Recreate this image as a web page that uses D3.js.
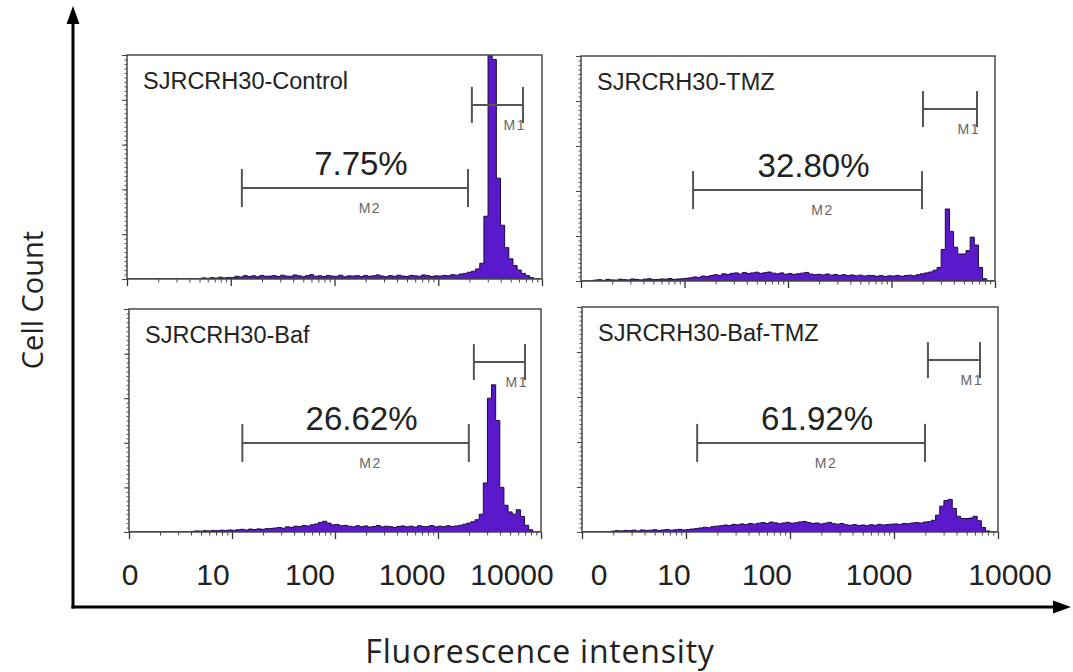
<!DOCTYPE html>
<html>
<head>
<meta charset="utf-8">
<script src="https://cdnjs.cloudflare.com/ajax/libs/d3/7.8.5/d3.min.js"></script>
<style>
	body { margin: 0; background: #fff; }
	svg { display: block; }
</style>
</head>
<body>
<div id="chart"></div>
<script>
// panel names, M2 percentages and gate settings (fluorescence units / % of max count)
const panelNames = ['SJRCRH30-Control', 'SJRCRH30-TMZ', 'SJRCRH30-Baf', 'SJRCRH30-Baf-TMZ']
const percentM2 = ['7.75%', '32.80%', '26.62%', '61.92%']
const gateM1 = [[2110, 6560], [2015, 6700], [2230, 6990], [2120, 6710]]
const gateM2 = [[12.8, 1936], [12.1, 1972], [12.6, 1992], [12.8, 1986]]
const gateM1Level = [77.7, 76.4, 76.2, 76.4]
const gateM2Level = [40.6, 40.4, 39.9, 39.6]
const tickLabels = ['0', '10', '100', '1000', '10000']

// histogram counts, 100 channels over 4 decades (0.04 decade each), % of max count
const histControl = [
	0, 0, 0, 0, 0, 0, 0, 0, 0, 0, 0, 0, 0, 0, 0, 0, 0, 0,
	0.5, 0.3, 0.6, 0.4, 0.8, 0.5, 0.7, 0.6,
	1.2, 0.9, 1.5, 1.1, 1.4, 1.0, 1.6, 1.2, 1.3, 1.5,
	1.1, 1.7, 1.3, 1.2, 1.8, 1.4, 1.0, 1.5, 1.9, 1.2,
	1.4, 1.1, 1.6, 1.3, 1.2, 1.7, 1.0, 1.4, 1.3, 1.5,
	1.1, 1.6, 1.2, 1.4, 1.8, 1.3, 1.0, 1.5, 1.2, 1.7,
	1.3, 1.1, 1.6, 1.4, 1.2, 1.8, 1.5, 1.1, 1.4, 1.3,
	1.6, 1.4, 1.9, 1.7, 2.2,
	2.5, 3.0, 3.5,
	4.5, 7, 28, 108, 98, 45, 24, 14, 9, 6, 4, 2.5, 1.5, 0.6, 0, 0
]
const histTMZ = [
	0, 0, 0,
	0.4, 0.6, 0.3, 0.7, 0.5, 0.4, 0.8, 0.6, 0.5, 0.9, 0.7, 0.5, 0.8, 1.0, 0.6, 0.7, 0.9, 0.8, 1.1, 0.7, 0.9, 1.0, 1.2,
	1.4, 1.8, 1.6, 2.2, 2.0,
	2.4, 2.8, 2.5, 3.2, 2.9, 3.4, 3.6, 3.1, 3.8, 3.3,
	3.6, 3.9, 3.4, 3.7, 4.0, 3.5, 3.2, 3.6, 3.0, 3.3,
	2.9, 3.2, 3.5, 3.8, 3.1, 2.8, 3.0, 2.7, 3.1, 2.6,
	2.9, 2.5, 2.8, 2.4, 2.7, 2.3, 2.6, 2.2, 2.5, 2.4,
	2.1, 2.4, 2.0, 2.3, 2.2, 2.5, 2.1, 2.4, 2.6, 2.3, 2.8, 3.2, 3.6,
	4.0, 4.8, 6.0,
	14, 32, 22, 15, 12, 12, 13.5, 19.5, 16, 6, 1, 0, 0
]
const histBaf = [
	0, 0, 0, 0, 0, 0, 0, 0, 0, 0, 0, 0, 0, 0, 0,
	0.3, 0.5, 0.4, 0.6, 0.5, 0.7, 0.6, 0.8, 0.7, 0.9, 0.8,
	1.0, 1.2, 0.9, 1.3, 1.1, 1.4, 1.2, 1.5, 1.6,
	1.8, 2.0, 1.7, 2.3, 2.1, 2.6, 2.4, 2.9, 2.7, 3.2, 3.6,
	4.3, 4.8, 4.0,
	3.2, 3.4, 2.8, 3.0,
	2.6, 2.3, 2.8, 2.4, 2.7, 2.2, 2.5, 2.9, 2.3, 2.6, 2.4, 2.1, 2.5, 2.7,
	2.3, 2.6, 2.2, 2.8, 2.4, 2.5, 2.9, 2.3, 2.6, 2.4, 2.8, 2.5, 2.7,
	3.0, 3.5, 4.0, 4.6, 5.5,
	8, 22, 60, 66, 50, 20, 12, 9, 8, 10, 7, 3, 1, 0, 0
]
const histBafTMZ = [
	0, 0, 0, 0, 0, 0, 0,
	0.4, 0.6, 0.5, 0.7, 0.6, 0.8, 0.5, 0.9, 0.7, 0.8, 1.0, 0.7, 0.9, 1.1, 0.8, 1.0, 1.2, 0.9, 1.1, 1.3,
	1.5, 1.8, 2.1, 1.9, 2.4, 2.6,
	2.8, 3.1, 2.9, 3.4, 3.2, 3.6, 3.3, 3.8, 3.5, 3.9,
	4.2, 3.8, 4.4, 4.1, 3.7, 4.0, 4.3, 3.9, 4.1, 4.5, 4.7, 4.2, 3.8, 4.0, 3.6, 3.9, 4.3, 3.7, 3.5, 3.8,
	3.2, 3.0, 3.3, 2.9, 3.1, 2.8, 3.2, 3.0, 3.4, 3.1, 3.3, 3.5,
	3.6, 3.4, 3.8, 3.7, 4.0, 4.2, 4.0, 4.4, 4.6, 5.2,
	7.5, 11.5, 14, 14.5, 10.5, 7, 6, 6, 6.2, 7, 5, 2, 0.5, 0, 0
]
const histograms = [histControl, histTMZ, histBaf, histBafTMZ]

const W = 1073
const H = 672
const fill = '#5b19cc'
const outline = '#1c0b3a'
const textCol = '#222'

// panel frames [x0, y0, x1, y1]
const boxes = [[127, 55, 542, 279], [581, 56, 995, 281], [129, 309, 541, 532], [582, 307, 998, 532]]
// small nudges of the pasted decade labels under the two bottom panels
const labelNudge = [[1, -19, -25, -26, -29], [17, -12, -23, -15, 12]]

let svg = d3
	.select('#chart')
	.append('svg')
	.attr('width', W)
	.attr('height', H)

svg.append('rect').attr('width', W).attr('height', H).attr('fill', '#fff')

let decadeTicks = [1, 10, 100, 1000, 10000]
let minorTicks = []
for (let d = 0; d < 4; d++) {
	for (let k = 2; k < 10; k++) minorTicks.push(k * Math.pow(10, d))
}

let xScales = []

boxes.forEach((b, p) => {
	let x = d3.scaleLog().domain([1, 10000]).range([b[0], b[2]])
	let y = d3.scaleLinear().domain([0, 100]).range([b[3], b[1]])
	xScales.push(x)
	let g = svg.append('g')

	g.append('clipPath')
		.attr('id', `clip${p}`)
		.append('rect')
		.attr('x', b[0])
		.attr('y', b[1])
		.attr('width', b[2] - b[0])
		.attr('height', b[3] - b[1])

	// histogram as step area
	let bins = histograms[p].map((v, i) => ({ lo: Math.pow(10, i * 0.04), v: v }))
	bins.push({ lo: 10000, v: 0 })
	let area = d3
		.area()
		.curve(d3.curveStepAfter)
		.x(d => x(d.lo))
		.y0(y(0))
		.y1(d => y(d.v))
	g.append('path')
		.datum(bins)
		.attr('clip-path', `url(#clip${p})`)
		.attr('d', area)
		.attr('fill', fill)
		.attr('stroke', outline)
		.attr('stroke-width', 1)
		.attr('stroke-linejoin', 'round')

	// y ticks (minor + major)
	g.append('g')
		.attr('transform', `translate(${b[0]},0)`)
		.call(d3.axisLeft(y).tickValues(d3.range(0, 101, 2)).tickSize(2.5).tickFormat(''))
		.call(a => a.select('.domain').remove())
		.selectAll('line').attr('stroke', '#555')
	g.append('g')
		.attr('transform', `translate(${b[0]},0)`)
		.call(d3.axisLeft(y).tickValues(d3.range(0, 101, 20)).tickSize(5).tickFormat(''))
		.call(a => a.select('.domain').remove())
		.selectAll('line').attr('stroke', '#444')

	// x ticks (log)
	g.append('g')
		.attr('transform', `translate(0,${b[3]})`)
		.call(d3.axisBottom(x).tickValues(minorTicks).tickSize(3.5).tickFormat(''))
		.call(a => a.select('.domain').remove())
		.selectAll('line').attr('stroke', '#444')
	g.append('g')
		.attr('transform', `translate(0,${b[3]})`)
		.call(d3.axisBottom(x).tickValues(decadeTicks).tickSize(7).tickFormat(''))
		.call(a => a.select('.domain').remove())
		.selectAll('line').attr('stroke', '#333').attr('stroke-width', 1.3)

	// frame
	g.append('rect')
		.attr('x', b[0])
		.attr('y', b[1])
		.attr('width', b[2] - b[0])
		.attr('height', b[3] - b[1])
		.attr('fill', 'none')
		.attr('stroke', '#4a4a4a')
		.attr('stroke-width', 1.5)

	// gates
	let gates = g.append('g').attr('stroke', '#555').attr('stroke-width', 2)
	let drawGate = (range, level, cap) => {
		let gy = y(level)
		let x0 = x(range[0])
		let x1 = x(range[1])
		gates.append('line').attr('x1', x0).attr('x2', x1).attr('y1', gy).attr('y2', gy)
		gates.append('line').attr('x1', x0).attr('x2', x0).attr('y1', gy - cap).attr('y2', gy + cap)
		gates.append('line').attr('x1', x1).attr('x2', x1).attr('y1', gy - cap).attr('y2', gy + cap)
		return { x0, x1, gy }
	}
	let m1 = drawGate(gateM1[p], gateM1Level[p], 18)
	let m2 = drawGate(gateM2[p], gateM2Level[p], 19)

	g.append('text')
		.attr('x', m1.x1 + 3)
		.attr('y', m1.gy + 25)
		.attr('text-anchor', 'end')
		.attr('font-family', 'Liberation Sans, Arial, sans-serif')
		.attr('font-size', 14)
		.attr('letter-spacing', 1.5)
		.attr('fill', '#666')
		.text('M1')
	g.append('text')
		.attr('x', (m2.x0 + m2.x1) / 2 + 15)
		.attr('y', m2.gy + 25)
		.attr('text-anchor', 'middle')
		.attr('font-family', 'Liberation Sans, Arial, sans-serif')
		.attr('font-size', 14)
		.attr('letter-spacing', 1.5)
		.attr('fill', '#666')
		.text('M2')
	g.append('text')
		.attr('x', (m2.x0 + m2.x1) / 2 + 6)
		.attr('y', m2.gy - 13)
		.attr('text-anchor', 'middle')
		.attr('font-family', 'Liberation Sans, Arial, sans-serif')
		.attr('font-size', 33)
		.attr('fill', textCol)
		.text(percentM2[p])

	// panel title
	g.append('text')
		.attr('x', b[0] + 16)
		.attr('y', b[1] + 34)
		.attr('font-family', 'Liberation Sans, Arial, sans-serif')
		.attr('font-size', 23.5)
		.attr('fill', textCol)
		.text(panelNames[p])
})

// decade labels under the bottom panels
;[2, 3].forEach((p, k) => {
	svg.append('g')
		.selectAll('text')
		.data(tickLabels)
		.enter()
		.append('text')
		.attr('x', (d, i) => xScales[p](decadeTicks[i]) + labelNudge[k][i])
		.attr('y', 585)
		.attr('text-anchor', 'middle')
		.attr('font-family', 'Liberation Sans, Arial, sans-serif')
		.attr('font-size', 30)
		.attr('fill', textCol)
		.text(d => d)
})

// big outer axes with arrows
let ax = 73
let ay = 607
svg.append('line').attr('x1', ax).attr('x2', ax).attr('y1', ay + 1.5).attr('y2', 20)
	.attr('stroke', '#000').attr('stroke-width', 3)
svg.append('line').attr('x1', ax - 1.5).attr('x2', 1060).attr('y1', ay).attr('y2', ay)
	.attr('stroke', '#000').attr('stroke-width', 3)
svg.append('path').attr('d', `M${ax},6 L${ax - 6.5},24 L${ax + 6.5},24 Z`).attr('fill', '#000')
svg.append('path').attr('d', `M1071,${ay} L1053,${ay - 6.5} L1053,${ay + 6.5} Z`).attr('fill', '#000')

svg.append('text')
	.attr('transform', 'translate(43,300) rotate(-90)')
	.attr('text-anchor', 'middle')
	.attr('font-family', 'Open Sans, sans-serif')
	.attr('font-size', 29)
	.attr('fill', textCol)
	.text('Cell Count')

svg.append('text')
	.attr('x', 540)
	.attr('y', 663)
	.attr('text-anchor', 'middle')
	.attr('font-family', 'Open Sans, sans-serif')
	.attr('font-size', 32)
	.attr('letter-spacing', 0.8)
	.attr('fill', textCol)
	.text('Fluorescence intensity')
</script>
</body>
</html>
